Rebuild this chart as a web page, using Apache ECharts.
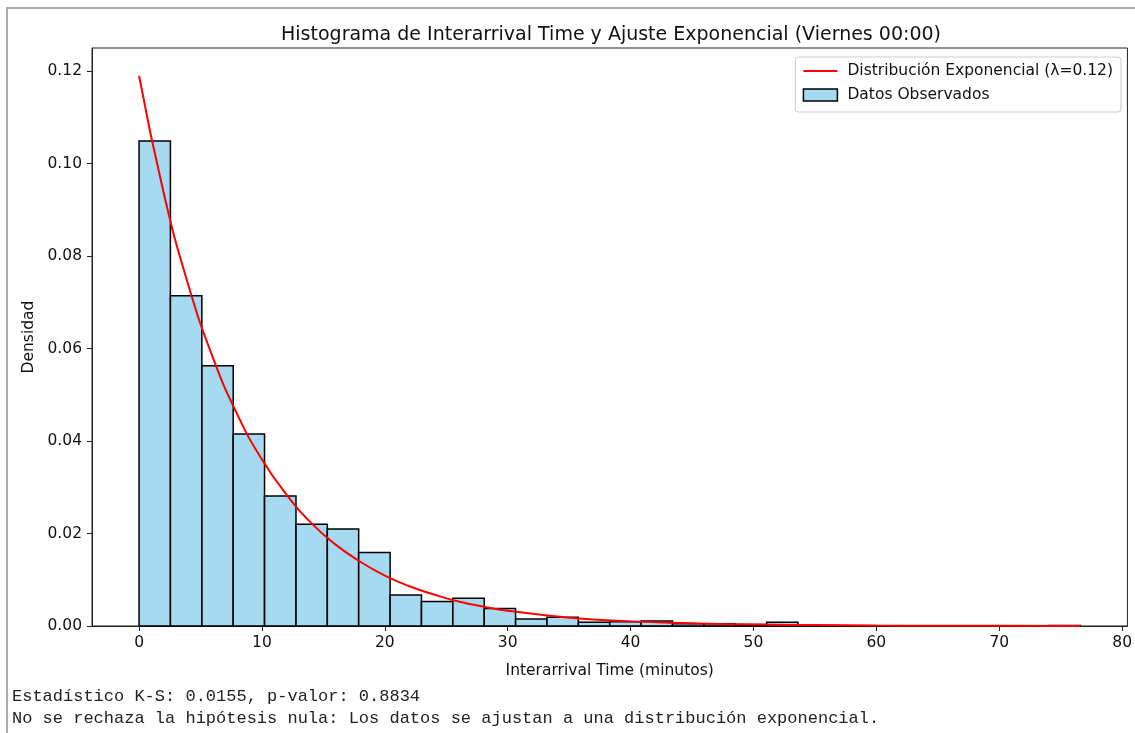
<!DOCTYPE html>
<html>
<head>
<meta charset="utf-8">
<script src="https://cdn.jsdelivr.net/npm/echarts@6/dist/echarts.min.js"></script>
<style>
  html, body { margin: 0; padding: 0; background: #ffffff; }
  #chart { width: 1135px; height: 733px; }
</style>
</head>
<body>
<div id="chart"></div>
<script>
// Histogram bin edges (minutes) and observed density per bin
const binEdges = [0, 2.55, 5.11, 7.66, 10.21, 12.77, 15.32, 17.87, 20.43, 22.98,
  25.53, 28.09, 30.64, 33.19, 35.75, 38.30, 40.85, 43.41, 45.96, 48.51,
  51.07, 53.62, 56.17, 58.73, 61.28, 63.83, 66.39, 68.94, 71.49, 74.05, 76.60];
const densities = [0.1049, 0.0714, 0.0563, 0.0415, 0.0281, 0.0220, 0.0210, 0.0159, 0.0067, 0.0053,
  0.0060, 0.0038, 0.0015, 0.0019, 0.0008, 0.0009, 0.0011, 0.0005, 0.0005, 0.0003,
  0.0008, 0, 0, 0, 0, 0, 0, 0, 0, 0.0001];

// Fitted exponential density curve samples
const curveX = [0, 2, 4, 6, 8, 10, 12, 14, 16, 18, 20, 22, 24, 26, 28, 30,
  35, 40, 45, 50, 55, 60, 65, 70, 76.6];
const curveY = [0.1190, 0.0937, 0.0738, 0.0581, 0.0457, 0.0360, 0.0284, 0.0223, 0.0176, 0.0139,
  0.0109, 0.0086, 0.0068, 0.0053, 0.0042, 0.0033, 0.0018, 0.0010, 0.0006, 0.0003,
  0.0002, 0.0001, 0.00005, 0.00003, 0.00001];

const xTicks = [0, 10, 20, 30, 40, 50, 60, 70, 80];
const yTicks = [0, 0.02, 0.04, 0.06, 0.08, 0.10, 0.12];

const curveName = 'Distribución Exponencial (λ=0.12)';
const histName = 'Datos Observados';
const statsLine1 = 'Estadístico K-S: 0.0155, p-valor: 0.8834';
const statsLine2 = 'No se rechaza la hipótesis nula: Los datos se ajustan a una distribución exponencial.';

const histData = densities.map((d, i) => [binEdges[i], binEdges[i + 1], d]);
const curveData = curveX.map((x, i) => [x, curveY[i]]);

const FONT = 'DejaVu Sans';
const LABEL_SIZE = 15.5;
const chart = echarts.init(document.getElementById('chart'), null, { renderer: 'canvas' });

chart.setOption({
  backgroundColor: '#ffffff',
  animation: false,
  title: {
    text: 'Histograma de Interarrival Time y Ajuste Exponencial (Viernes 00:00)',
    left: 606,
    top: 21,
    textAlign: 'center',
    textStyle: { fontFamily: FONT, fontSize: 19, fontWeight: 'normal', color: '#111' }
  },
  grid: {
    left: 92, top: 48, right: 6, bottom: 107,
    show: true, borderColor: '#222', borderWidth: 1, backgroundColor: 'transparent'
  },
  legend: {
    orient: 'vertical',
    right: 14, top: 57,
    itemWidth: 34, itemHeight: 12, itemGap: 8,
    padding: [6, 8, 9, 7],
    backgroundColor: 'rgba(255,255,255,0.8)',
    borderColor: '#cccccc', borderWidth: 1, borderRadius: 3,
    textStyle: { fontFamily: FONT, fontSize: LABEL_SIZE, color: '#111', padding: [0, 0, 0, 5] },
    data: [
      {
        name: curveName,
        itemStyle: { color: 'rgba(0,0,0,0)', borderColor: 'rgba(0,0,0,0)', borderWidth: 0, opacity: 0 },
        lineStyle: { color: '#ff0000', width: 2 }
      },
      { name: histName, icon: 'rect', itemStyle: { color: 'rgba(135,206,235,0.75)', borderColor: '#000', borderWidth: 1.5 } }
    ]
  },
  xAxis: {
    type: 'value',
    min: -3.83, max: 80.43,
    name: 'Interarrival Time (minutos)',
    nameLocation: 'middle', nameGap: 37,
    nameTextStyle: { fontFamily: FONT, fontSize: LABEL_SIZE, color: '#111' },
    axisLine: { show: true, onZero: false, lineStyle: { color: '#222', width: 1 } },
    axisTick: { show: true, length: 5, lineStyle: { color: '#222' }, customValues: xTicks },
    axisLabel: { fontFamily: FONT, fontSize: LABEL_SIZE, color: '#111', margin: 9, customValues: xTicks },
    splitLine: { show: false }
  },
  yAxis: {
    type: 'value',
    min: 0, max: 0.125,
    name: 'Densidad',
    nameLocation: 'middle', nameGap: 44,
    nameTextStyle: { fontFamily: FONT, fontSize: LABEL_SIZE, color: '#111' },
    axisLine: { show: true, onZero: false, lineStyle: { color: '#222', width: 1 } },
    axisTick: { show: true, length: 5, lineStyle: { color: '#222' }, customValues: yTicks },
    axisLabel: {
      fontFamily: FONT, fontSize: LABEL_SIZE, color: '#111', margin: 10, customValues: yTicks,
      formatter: v => v.toFixed(2)
    },
    splitLine: { show: false }
  },
  graphic: [
    {
      type: 'polyline',
      shape: { points: [[7, 733], [7, 8], [1135, 8]] },
      style: { stroke: '#aaaaaa', lineWidth: 2, fill: null },
      silent: true
    },
    {
      type: 'text', left: 12, top: 688,
      style: { text: statsLine1, font: '17px "Liberation Mono"', fill: '#222' }
    },
    {
      type: 'text', left: 12, top: 710,
      style: { text: statsLine2, font: '17px "Liberation Mono"', fill: '#222' }
    }
  ],
  series: [
    {
      name: histName,
      type: 'custom',
      z: 2,
      data: histData,
      encode: { x: [0, 1], y: 2 },
      renderItem: function (params, api) {
        const p0 = api.coord([api.value(0), api.value(2)]);
        const p1 = api.coord([api.value(1), 0]);
        return {
          type: 'rect',
          shape: { x: p0[0], y: p0[1], width: p1[0] - p0[0], height: p1[1] - p0[1] },
          style: { fill: 'rgba(135,206,235,0.75)', stroke: '#000', lineWidth: 1.5 }
        };
      },
      itemStyle: { color: 'rgba(135,206,235,0.75)', borderColor: '#000', borderWidth: 1.5 }
    },
    {
      name: curveName,
      type: 'line',
      z: 3,
      data: curveData,
      showSymbol: false,
      symbol: 'none',
      smooth: 0.5,
      lineStyle: { color: '#ff0000', width: 2 },
      itemStyle: { color: '#ff0000' }
    }
  ]
});
</script>
</body>
</html>
